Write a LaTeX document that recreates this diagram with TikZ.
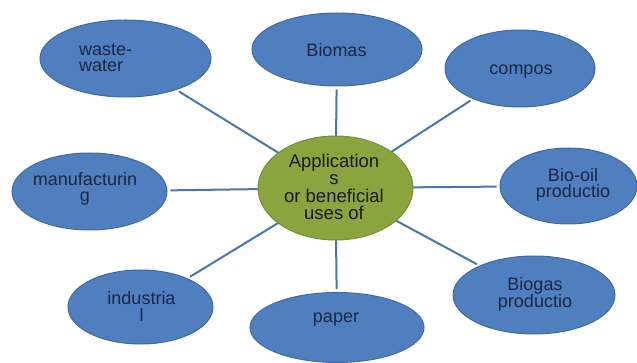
\documentclass[tikz,border=0pt]{standalone}
\usepackage{fontspec}
\setmainfont{Liberation Sans}
\usetikzlibrary{shapes.geometric}
\definecolor{bluefill}{HTML}{4F7FBE}
\definecolor{blueedge}{HTML}{3E6BA6}
\definecolor{greenfill}{HTML}{8AA43E}
\definecolor{greenedge}{HTML}{76903A}
\definecolor{linkcol}{HTML}{4A76AE}
\definecolor{txtcol}{HTML}{1C2742}
\tikzset{
  bubble/.style={ellipse, draw=blueedge, fill=bluefill, line width=1pt, inner sep=0pt},
  hub/.style={ellipse, draw=greenedge, fill=greenfill, line width=1pt, inner sep=0pt},
  label/.style={text=txtcol, font=\fontsize{18pt}{16.5pt}\selectfont, inner sep=0pt, anchor=base, align=center},
  hublabel/.style={text=black!90, font=\fontsize{18.5pt}{17.5pt}\selectfont, inner sep=0pt, anchor=base, align=center},
  link/.style={draw=linkcol, line width=2pt, shorten >=3pt}
}
\begin{document}
\begin{tikzpicture}[x=1pt,y=-1pt]
\useasboundingbox (0,0) rectangle (637,363);
% ellipses
\node[bubble, minimum width=171pt, minimum height=77pt] (waste) at (125.5,58.5) {};
\node[bubble, minimum width=170pt, minimum height=73pt] (biomas) at (337,49.5) {};
\node[bubble, minimum width=150pt, minimum height=77pt] (compos) at (520,68.5) {};
\node[bubble, minimum width=137pt, minimum height=76pt] (biooil) at (568.5,186) {};
\node[bubble, minimum width=162pt, minimum height=78pt] (biogas) at (534,295) {};
\node[bubble, minimum width=174pt, minimum height=70pt] (paper) at (337,327.5) {};
\node[bubble, minimum width=145pt, minimum height=74pt] (indus) at (140.5,307) {};
\node[bubble, minimum width=155pt, minimum height=77pt] (manu) at (89.5,191.5) {};
% connectors
\coordinate (hubc) at (335.5,188);
\draw[link] (hubc) -- (waste);
\draw[link] (hubc) -- (biomas);
\draw[link] (hubc) -- (compos);
\draw[link] (hubc) -- (biooil);
\draw[link] (hubc) -- (biogas);
\draw[link] (hubc) -- (paper);
\draw[link] (hubc) -- (indus);
\draw[link] (hubc) -- (manu);
% hub
\node[hub, minimum width=155pt, minimum height=104pt] (hub) at (hubc) {};
% texts
\node[label, align=left, anchor=base west] (twaste) at (79,72) {waste-\\water};
\node[label] (tbiomas) at (336.5,57) {Biomas};
\node[label] (tcompos) at (521,75) {compos};
\node[label] (tbiooil) at (573,198) {Bio-oil\\productio};
\node[label] (tbiogas) at (535,308) {Biogas\\productio};
\node[label] (tpaper) at (336,323) {paper};
\node[label] (tindus) at (141.5,321) {industria\\l};
\node[label] (tmanu) at (85,202) {manufacturin\\g};
\node[hublabel] (thub) at (334,220) {Application\\s\\or beneficial\\uses of};
\end{tikzpicture}
\end{document}
